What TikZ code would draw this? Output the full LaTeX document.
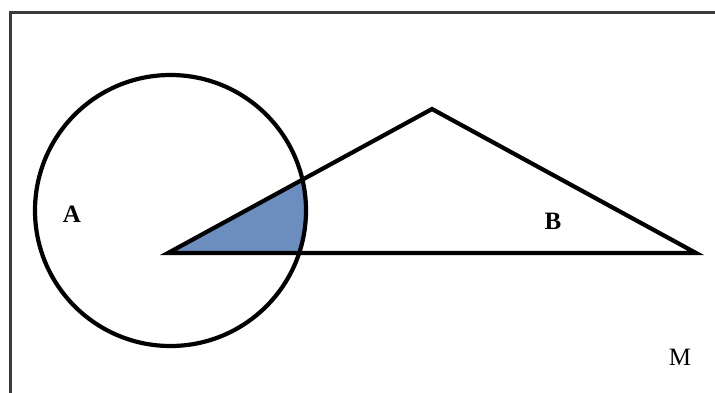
\documentclass[tikz,border=0pt]{standalone}
\usepackage{fontspec}
\setmainfont{Liberation Serif}
\definecolor{fillblue}{HTML}{6C8EBF}
\definecolor{framegray}{HTML}{3A3A3A}
\begin{document}
\begin{tikzpicture}[x=1pt,y=-1pt,
  shape line/.style={line width=4.2pt,black,line join=miter},
  lbl/.style={font=\fontsize{25}{27}\selectfont\bfseries,inner sep=0pt},
  lblr/.style={font=\fontsize{25}{27}\selectfont,inner sep=0pt}]
\useasboundingbox (0,0) rectangle (715,392);
\begin{scope}
\clip (0,0) rectangle (715,392);
\draw[framegray,line width=2.5pt] (10.5,12.5) rectangle (740,420);
\end{scope}
\coordinate (O) at (170.5,210.5);
\coordinate (P) at (168,253);
\coordinate (Q) at (432,109);
\coordinate (R) at (696,253);
\begin{scope}
\clip (O) circle (135.5);
\fill[fillblue] (P) -- (Q) -- (R) -- cycle;
\end{scope}
\draw[shape line] (P) -- (Q) -- (R) -- cycle;
\draw[shape line] (O) circle (135.5);
\node[lbl] (A) at (72,214) {A};
\node[lbl] (B) at (553,221) {B};
\node[lblr] (M) at (680,357) {M};
\end{tikzpicture}
\end{document}
